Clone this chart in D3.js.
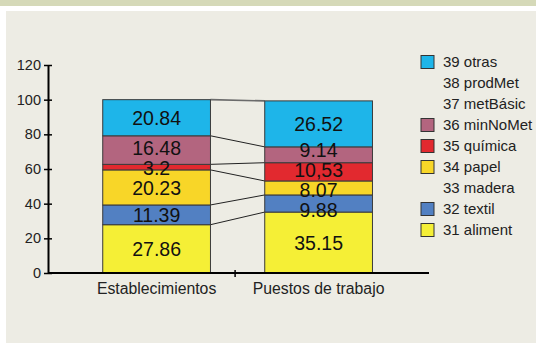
<!DOCTYPE html>
<html>
<head>
<meta charset="utf-8">
<script src="https://cdn.jsdelivr.net/npm/d3@7"></script>
<style>
  html, body { margin: 0; padding: 0; background: #ffffff; }
  svg { display: block; font-family: "Liberation Sans", Arial, sans-serif; }
</style>
</head>
<body>
<svg id="chart" width="536" height="343"></svg>
<script>
// Categories on the x axis
const categories = ["Establecimientos", "Puestos de trabajo"];

// Industry groups, from bottom of the stack to the top
const sectors = ["31 aliment", "32 textil", "33 madera", "34 papel", "35 química",
                 "36 minNoMet", "37 metBásic", "38 prodMet", "39 otras"];
const sectorColors = ["#f5ef36", "#5280c2", null, "#f8d628", "#e2292f",
                      "#b3657f", null, null, "#1eb5e9"];

// Shares (%) per sector for each category
const establecimientos = [27.86, 11.39, 0, 20.23, 3.2, 16.48, 0, 0, 20.84];
const puestos          = [35.15, 9.88, 0, 8.07, 10.53, 9.14, 0, 0, 26.52];

// Text printed inside each segment
const establecimientosLabels = ["27.86", "11.39", "", "20.23", "3.2", "16.48", "", "", "20.84"];
const puestosLabels          = ["35.15", "9.88", "", "8.07", "10,53", "9.14", "", "", "26.52"];

const yTicks = [0, 20, 40, 60, 80, 100, 120];

const svg = d3.select("#chart");

// Page background: green header strip and beige panel
svg.append("rect").attr("x", 0).attr("y", 0).attr("width", 536).attr("height", 6).attr("fill", "#d5d9b8");
svg.append("rect").attr("x", 6).attr("y", 11).attr("width", 530).attr("height", 332).attr("fill", "#edece4");

const y = d3.scaleLinear().domain([0, 120]).range([273, 65]);
const x = d3.scaleBand().domain(categories).range([75.6, 399.6])
  .paddingInner(0.335).paddingOuter(0.1675);

const series = [establecimientos, puestos];
const labels = [establecimientosLabels, puestosLabels];

// Stacked segments
const stacks = series.map(vals => {
  let acc = 0;
  return vals.map((v, i) => {
    const seg = { i, y0: acc, y1: acc + v, v };
    acc += v;
    return seg;
  });
});

// Spread segment labels apart so neighbouring values do not collide
function spreadLabels(segs, minGap) {
  const pos = segs.map(d => y((d.y0 + d.y1) / 2));
  for (let it = 0; it < 300; it++) {
    let moved = false;
    for (let k = 0; k < pos.length - 1; k++) {
      // segments run bottom-up, so pos[k] is below pos[k+1]
      const gap = pos[k] - pos[k + 1];
      if (gap < minGap - 0.01) {
        const push = (minGap - gap) / 2;
        pos[k] += push;
        pos[k + 1] -= push;
        moved = true;
      }
    }
    if (!moved) break;
  }
  return pos;
}

// Connector lines between matching segment tops
const tops = stacks.map(s => s.filter(d => d.v > 0).map(d => d.y1));
const connectors = d3.range(tops[0].length).map(k => ({ a: tops[0][k], b: tops[1][k], last: k === tops[0].length - 1 }));
svg.append("g").selectAll("line").data(connectors).join("line")
  .attr("x1", x(categories[0]) + x.bandwidth())
  .attr("x2", x(categories[1]))
  .attr("y1", d => y(d.a))
  .attr("y2", d => y(d.b))
  .attr("stroke", d => d.last ? "#6b6b6b" : "#222")
  .attr("stroke-width", d => d.last ? 1.6 : 1);

categories.forEach((cat, ci) => {
  const g = svg.append("g");
  const segs = stacks[ci].filter(d => d.v > 0);
  const labelY = spreadLabels(segs, 20);
  g.selectAll("rect").data(segs).join("rect")
    .attr("x", x(cat))
    .attr("width", x.bandwidth())
    .attr("y", d => y(d.y1))
    .attr("height", d => y(d.y0) - y(d.y1))
    .attr("fill", d => sectorColors[d.i])
    .attr("stroke", "#3a3a3a")
    .attr("stroke-width", 1);
  g.selectAll("text").data(segs).join("text")
    .attr("x", x(cat) + x.bandwidth() / 2)
    .attr("y", (d, k) => labelY[k])
    .attr("dy", "0.36em")
    .attr("text-anchor", "middle")
    .attr("font-size", 19.5)
    .attr("fill", "#111")
    .text(d => labels[ci][d.i]);
});

// Y axis
const yAxis = svg.append("g").attr("transform", "translate(48,0)")
  .call(d3.axisLeft(y).tickValues(yTicks).tickSize(4).tickSizeOuter(0).tickPadding(3));
yAxis.select(".domain").attr("stroke", "#000").attr("stroke-width", 2);
yAxis.selectAll(".tick line").attr("x1", 4).attr("stroke", "#000").attr("stroke-width", 1.5);
yAxis.selectAll(".tick text").attr("font-size", 14.5).attr("fill", "#222")
  .attr("font-family", "'Liberation Sans', Arial, sans-serif");

// X axis
svg.append("line").attr("x1", 48).attr("x2", 429).attr("y1", y(0)).attr("y2", y(0))
  .attr("stroke", "#000").attr("stroke-width", 2);
const midTick = (x(categories[0]) + x.bandwidth() + x(categories[1])) / 2 - 2.5;
svg.append("line").attr("x1", midTick).attr("x2", midTick).attr("y1", y(0) - 3).attr("y2", y(0) + 4)
  .attr("stroke", "#000").attr("stroke-width", 1.5);
svg.append("g").selectAll("text").data(categories).join("text")
  .attr("x", d => x(d) + x.bandwidth() / 2)
  .attr("y", 294)
  .attr("text-anchor", "middle")
  .attr("font-size", 15.8)
  .attr("fill", "#222")
  .text(d => d);

// Legend, top group first
const legendItems = d3.range(sectors.length).reverse();
const legend = svg.append("g").selectAll("g").data(legendItems).join("g")
  .attr("transform", (d, k) => `translate(0,${62 + k * 21})`);
legend.filter(d => sectorColors[d]).append("rect")
  .attr("x", 421).attr("y", -6.5).attr("width", 13).attr("height", 13)
  .attr("fill", d => sectorColors[d]).attr("stroke", "#333").attr("stroke-width", 1);
legend.append("text")
  .attr("x", 443).attr("dy", "0.36em")
  .attr("font-size", 15).attr("fill", "#222")
  .text(d => sectors[d]);
</script>
</body>
</html>
